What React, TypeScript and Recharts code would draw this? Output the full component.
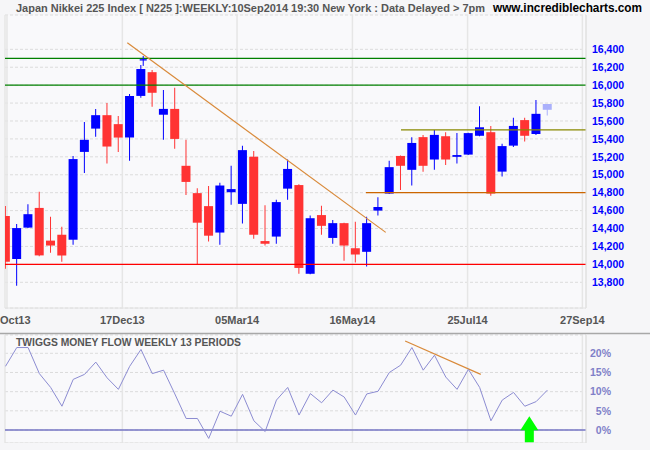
import {
  ComposedChart,
  Bar,
  Cell,
  Line,
  XAxis,
  YAxis,
  CartesianGrid,
  ReferenceLine,
  ReferenceArea,
  ReferenceDot,
} from "recharts"

// one candle per full week, week index 0..48
const WEEK = [
  0, 1, 2, 3, 4, 5, 6, 7, 8, 9, 10, 11, 12, 13, 14, 15, 16, 17, 18, 19, 20,
  21, 22, 23, 24, 25, 26, 27, 28, 29, 30, 31, 32, 33, 34, 35, 36, 37, 38, 39,
  40, 41, 42, 43, 44, 45, 46, 47, 48,
]
const OPEN = [
  14540, 14060, 14410, 14630, 14265, 14330, 14275, 15255, 15515, 15665, 15565,
  15415, 15880, 16145, 15670, 15735, 15100, 14795, 14650, 14355, 14805,
  14675, 15200, 14260, 14310, 14845, 14885, 13895, 14550, 14295, 14460, 14180,
  14140, 14600, 14790, 15210, 15055, 15420, 15170, 15430, 15200, 15225, 15435,
  15475, 15035, 15325, 15610, 15455, 15725,
]
const HIGH = [
  14650, 14450, 14670, 14810, 14530, 14420, 15210, 15590, 15735, 15800, 15655,
  15900, 16225, 16170, 15945, 15970, 15390, 14850, 14875, 14910, 15100,
  15325, 15265, 14660, 14720, 15170, 14895, 14545, 14655, 14495, 14465, 14475,
  14530, 14750, 15155, 15215, 15420, 15445, 15500, 15475, 15465, 15470, 15765,
  15545, 15345, 15635, 15635, 15835, 15790,
]
const LOW = [
  13950, 13760, 14405, 14090, 14130, 14030, 14220, 15020, 15425, 15125, 15255,
  15155, 15860, 15760, 15390, 15290, 14775, 14000, 14255, 14220, 14665,
  14455, 14285, 14210, 14230, 14720, 13895, 13890, 14330, 14230, 14040, 14020,
  13975, 14545, 14785, 14830, 14880, 15035, 15055, 15110, 15125, 15220, 15430,
  14765, 14980, 15310, 15370, 15445, 15660,
]
const CLOSE = [
  14030, 14405, 14560, 14100, 14210, 14100, 15175, 15390, 15665, 15315, 15415,
  15880, 16180, 15915, 15735, 15400, 14920, 14465, 14320, 14880, 14840,
  15275, 14330, 14230, 14695, 15065, 13960, 14515, 14430, 14460, 14210, 14110,
  14460, 14640, 15085, 15100, 15355, 15100, 15445, 15170, 15220, 15465, 15530,
  14790, 15320, 15545, 15435, 15680, 15790,
]
// short holiday week squeezed in after week 12
const SHORT_WEEK = { x: 12.2, o: 16275, h: 16325, l: 16215, c: 16290 }

// Twiggs money flow, %, one value per week
const TMF = [
  16.6, 21.5, 21.5, 14.7, 11.1, 6.2, 13.2, 14.5, 17.7, 13.6, 10.6, 16.6, 21.0,
  14.7, 15.6, 9.4, 3.0, 3.0, -2.2, 4.9, 3.6, 9.3, 2.4, -0.4, 7.8, 11.1, 3.9,
  9.5, 7.1, 10.4, 8.6, 3.9, 9.4, 10.1, 15.0, 16.9, 21.5, 15.6, 19.5, 13.8,
  10.6, 15.8, 11.1, 2.4, 7.8, 9.8, 6.2, 7.4, 10.4,
]

const X_TICKS = [0.13, 10.35, 20.51, 30.73, 40.93, 51.1]
const X_LABELS = ["Oct13", "17Dec13", "05Mar14", "16May14", "25Jul14", "27Sep14"]
const PRICE_TICKS = [
  13800, 14000, 14200, 14400, 14600, 14800, 15000, 15200, 15400, 15600, 15800,
  16000, 16200, 16400,
]
const TMF_TICKS = [0, 5, 10, 15, 20]

const SUPPORT = { green1: 16300, green2: 16000, red: 14000, orange: 14800, olive: 15500 }
const ORANGE_FROM = 31.93
const OLIVE_FROM = 35.03
const PRICE_TREND = [
  { x: 10.79, y: 16474 },
  { x: 33.68, y: 14357 },
]
const TMF_TREND = [
  { x: 35.4, y: 23.2 },
  { x: 42.1, y: 14.5 },
]
const ARROW = { x: 46.4, y: 3.6 }

const X_MIN = -0.044
const X_MAX = 51.42
const P_MIN = 13513
const P_MAX = 16783
const T_MIN = -3.39
const T_MAX = 24.77

const candles = WEEK.map((x, i) => ({
  x,
  o: OPEN[i],
  h: HIGH[i],
  l: LOW[i],
  c: CLOSE[i],
}))
const tmfData = TMF.map((v, i) => ({ x: i, v }))

const FONT = "'Liberation Sans', Arial, sans-serif"
const UP = "#0000ff"
const DOWN = "#ff3333"

function candleColor(i: number) {
  if (i === candles.length - 1) return "#aab0fb" // current, unfinished week
  return candles[i].c >= candles[i].o ? UP : DOWN
}

function XTick(props: any) {
  const { x, y, payload, index } = props
  const first = index === 0
  return (
    <text
      x={first ? 0 : x}
      y={y}
      dy="0.71em"
      textAnchor={first ? "start" : "middle"}
      fill="#555"
      fontSize={11}
      fontWeight="bold"
      fontFamily={FONT}
    >
      {X_LABELS[X_TICKS.indexOf(payload.value)]}
    </text>
  )
}

function ArrowShape(props: any) {
  const { cx, cy } = props
  const pts = [
    [cx, cy],
    [cx + 9, cy + 14],
    [cx + 4.5, cy + 14],
    [cx + 4.5, cy + 26],
    [cx - 4.5, cy + 26],
    [cx - 4.5, cy + 14],
    [cx - 9, cy + 14],
  ]
    .map((p) => p.join(","))
    .join(" ")
  return <polygon points={pts} fill="#00ff00" />
}

export default function App() {
  return (
    <div
      style={{
        position: "relative",
        width: 650,
        height: 450,
        background: "#f6f6f8",
        overflow: "hidden",
      }}
    >
      <style>{`body{margin:0}`}</style>
      <div style={{ position: "absolute", left: 0, top: 0 }}>
        <ComposedChart
          width={650}
          height={333}
          data={candles}
          margin={{ top: 15, right: 0, bottom: 0, left: 5 }}
        >
          <CartesianGrid
            xAxisId="a"
            vertical={false}
            strokeDasharray="3 2"
            stroke="#dcdcdc"
            fill="#f9f9fb"
          />
          <CartesianGrid xAxisId="a" horizontal={false} stroke="#e6e6e6" strokeWidth={1.5} />
          <XAxis
            xAxisId="a"
            dataKey="x"
            type="number"
            domain={[X_MIN, X_MAX]}
            allowDataOverflow
            ticks={X_TICKS}
            interval={0}
            tickLine={false}
            axisLine={{ stroke: "#e2e2e2" }}
            height={25}
            tick={XTick}
          />
          <XAxis
            xAxisId="b"
            dataKey="x"
            type="number"
            domain={[X_MIN, X_MAX]}
            allowDataOverflow
            hide
          />
          <YAxis
            orientation="right"
            domain={[P_MIN, P_MAX]}
            allowDataOverflow
            ticks={PRICE_TICKS}
            interval={0}
            width={64}
            tickSize={4}
            tickMargin={2}
            tickLine={false}
            axisLine={{ stroke: "#e2e2e2" }}
            tickFormatter={(v) => Number(v).toLocaleString("en-US")}
            tick={{ fill: "#0000ff", fontSize: 10.5, fontWeight: "bold", fontFamily: FONT }}
          />
          <ReferenceLine xAxisId="a" y={SUPPORT.green1} stroke="#008000" strokeWidth={1.3} />
          <ReferenceLine xAxisId="a" y={SUPPORT.green2} stroke="#008000" strokeWidth={1.3} />
          <ReferenceLine xAxisId="a" y={SUPPORT.red} stroke="#ff0000" strokeWidth={1.3} />
          <ReferenceLine
            xAxisId="a"
            segment={[
              { x: ORANGE_FROM, y: SUPPORT.orange },
              { x: X_MAX, y: SUPPORT.orange },
            ]}
            stroke="#cc6600"
            strokeWidth={1.3}
          />
          <ReferenceLine
            xAxisId="a"
            segment={[
              { x: OLIVE_FROM, y: SUPPORT.olive },
              { x: X_MAX, y: SUPPORT.olive },
            ]}
            stroke="#888800"
            strokeWidth={1.3}
          />
          <ReferenceLine
            xAxisId="a"
            segment={PRICE_TREND}
            stroke="#d98a3a"
            strokeWidth={1.2}
          />
          <Bar
            xAxisId="a"
            dataKey={(d: any) => [d.l, d.h]}
            barSize={1}
            isAnimationActive={false}
          >
            {candles.map((_, i) => (
              <Cell key={i} fill={candleColor(i)} />
            ))}
          </Bar>
          <Bar
            xAxisId="b"
            dataKey={(d: any) => [Math.min(d.o, d.c), Math.max(d.o, d.c)]}
            barSize={9}
            isAnimationActive={false}
          >
            {candles.map((_, i) => (
              <Cell key={i} fill={candleColor(i)} />
            ))}
          </Bar>
          {/* short week candle */}
          <ReferenceLine
            xAxisId="a"
            segment={[
              { x: SHORT_WEEK.x, y: SHORT_WEEK.l },
              { x: SHORT_WEEK.x, y: SHORT_WEEK.h },
            ]}
            stroke={UP}
            strokeWidth={1}
          />
          <ReferenceArea
            xAxisId="a"
            x1={SHORT_WEEK.x - 0.31}
            x2={SHORT_WEEK.x + 0.31}
            y1={SHORT_WEEK.o}
            y2={SHORT_WEEK.c}
            fill={UP}
            fillOpacity={1}
            stroke="none"
          />
        </ComposedChart>
      </div>

      <div style={{ position: "absolute", left: 0, top: 333 }}>
        <ComposedChart
          width={650}
          height={110}
          data={tmfData}
          margin={{ top: 2, right: 0, bottom: 0, left: 5 }}
        >
          <CartesianGrid
            vertical={false}
            strokeDasharray="3 2"
            stroke="#dcdcdc"
            fill="#f9f9fb"
          />
          <CartesianGrid horizontal={false} stroke="#e6e6e6" strokeWidth={1.5} />
          <XAxis
            dataKey="x"
            type="number"
            domain={[X_MIN, X_MAX]}
            allowDataOverflow
            ticks={X_TICKS}
            hide
          />
          <YAxis
            orientation="right"
            domain={[T_MIN, T_MAX]}
            allowDataOverflow
            ticks={TMF_TICKS}
            interval={0}
            width={64}
            tickSize={4}
            tickMargin={2}
            tickLine={false}
            axisLine={{ stroke: "#e2e2e2" }}
            tick={(p: any) => (
              <text
                x={p.x + 19}
                y={p.y}
                dy="0.355em"
                textAnchor="end"
                fill="#8080c8"
                fontSize={10.5}
                fontWeight="bold"
                fontFamily={FONT}
              >
                {p.payload.value}%
              </text>
            )}
          />
          <ReferenceLine y={T_MIN} stroke="#e2e2e2" />
          <ReferenceLine y={0} stroke="#7474c4" strokeWidth={1.5} />
          <ReferenceLine segment={TMF_TREND} stroke="#d98a3a" strokeWidth={1.2} />
          <Line
            dataKey="v"
            stroke="#8c8cd2"
            strokeWidth={1}
            dot={false}
            isAnimationActive={false}
          />
          <ReferenceDot
            x={ARROW.x}
            y={ARROW.y}
            r={0}
            shape={ArrowShape}
            ifOverflow="visible"
          />
        </ComposedChart>
      </div>

      <svg
        width={650}
        height={450}
        style={{ position: "absolute", left: 0, top: 0, pointerEvents: "none" }}
      >
        <text
          x={16}
          y={12}
          fill="#555"
          fontSize={11}
          fontWeight="bold"
          fontFamily={FONT}
          textLength={469}
          lengthAdjust="spacingAndGlyphs"
        >
          Japan Nikkei 225 Index [ N225 ]:WEEKLY:10Sep2014 19:30 New York : Data Delayed &gt; 7pm
        </text>
        <text
          x={493}
          y={12}
          fill="#000"
          fontSize={12}
          fontWeight="bold"
          fontFamily={FONT}
          textLength={149}
          lengthAdjust="spacingAndGlyphs"
        >
          www.incrediblecharts.com
        </text>
        <line x1={0} x2={650} y1={333.5} y2={333.5} stroke="#a8a8a8" strokeWidth={1.3} />
        <text
          x={16}
          y={345.5}
          fill="#555"
          fontSize={10.5}
          fontWeight="bold"
          fontFamily={FONT}
          textLength={225}
          lengthAdjust="spacingAndGlyphs"
        >
          TWIGGS MONEY FLOW WEEKLY 13 PERIODS
        </text>
      </svg>
    </div>
  )
}
